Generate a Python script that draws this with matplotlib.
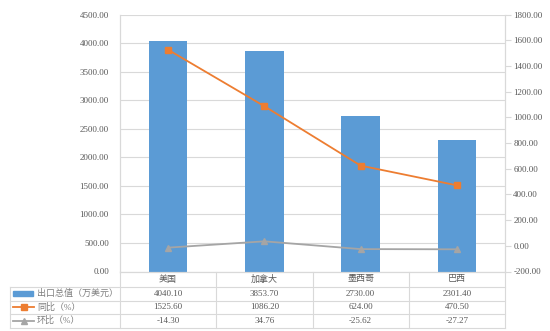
import matplotlib
matplotlib.use('Agg')
import matplotlib.pyplot as plt
from matplotlib.lines import Line2D
from matplotlib.patches import Rectangle
from matplotlib.ticker import FormatStrFormatter, MultipleLocator

plt.rcParams['font.family'] = ['Liberation Serif', 'Noto Sans CJK SC']
plt.rcParams['font.size'] = 6.5

countries = ['美国', '加拿大', '墨西哥', '巴西']
export_total = [4040.10, 3853.70, 2730.00, 2301.40]
yoy = [1525.60, 1086.20, 624.00, 470.50]
mom = [-14.30, 34.76, -25.62, -27.27]
row_labels = ['出口总值（万美元）', '同比（%）', '环比（%）']

blue = '#5B9BD5'
orange = '#ED7D31'
gray = '#A5A5A5'
text_c = '#595959'
line_c = '#D9D9D9'

W, H = 550, 331
fig = plt.figure(figsize=(W / 100, H / 100), dpi=100)


def fx(px):
    return px / W


def fy(py):
    return 1 - py / H


# plot area in pixels
left, right, top, bottom = 120, 505, 14.5, 271.5
ax = fig.add_axes([fx(left), fy(bottom), fx(right - left), (bottom - top) / H])
ax2 = ax.twinx()

x = list(range(len(countries)))
ax.bar(x, export_total, width=0.4, color=blue, zorder=2)
ax.set_xlim(-0.5, len(countries) - 0.5)
ax.set_ylim(0, 4500)
ax.yaxis.set_major_locator(MultipleLocator(500))
ax.yaxis.set_major_formatter(FormatStrFormatter('%.2f'))
ax.grid(axis='y', color=line_c, lw=0.8, zorder=0)
ax.set_axisbelow(True)
ax.set_xticks([])
ax.tick_params(axis='y', length=0, pad=8, colors=text_c)

ax2.plot(x, yoy, color=orange, lw=1.3, marker='s', markersize=4, zorder=3)
ax2.plot(x, mom, color=gray, lw=1.3, marker='^', markersize=4, zorder=3)
ax2.set_ylim(-200, 1800)
ax2.yaxis.set_major_locator(MultipleLocator(200))
ax2.yaxis.set_major_formatter(FormatStrFormatter('%.2f'))
ax2.tick_params(axis='y', length=4, width=0.8, color=line_c, pad=2, labelcolor=text_c)

for a in (ax, ax2):
    a.spines['top'].set_visible(False)
    for side in ('left', 'right', 'bottom'):
        a.spines[side].set_color(line_c)
        a.spines[side].set_linewidth(0.8)

# data table under the chart
rows_y = [287, 300.5, 314, 327.5]
col_x = [left + (right - left) * i / len(countries) for i in range(len(countries) + 1)]
tbl_left = 10

for yy in rows_y:
    fig.add_artist(Line2D([fx(tbl_left), fx(right)], [fy(yy), fy(yy)], color=line_c, lw=0.8))
fig.add_artist(Line2D([fx(tbl_left), fx(tbl_left)], [fy(rows_y[0]), fy(rows_y[-1])], color=line_c, lw=0.8))
for cx in col_x:
    fig.add_artist(Line2D([fx(cx), fx(cx)], [fy(bottom), fy(rows_y[-1])], color=line_c, lw=0.8))

xt = ax.get_xaxis_transform()
cat_y = (bottom + rows_y[0]) / 2
for i, name in enumerate(countries):
    ax.text(i, (bottom - cat_y) / (bottom - top), name, transform=xt,
            ha='center', va='center', color=text_c, clip_on=False)

series = [export_total, yoy, mom]
for r, vals in enumerate(series):
    cy = (rows_y[r] + rows_y[r + 1]) / 2
    for i, v in enumerate(vals):
        ax.text(i, (bottom - cy) / (bottom - top), f'{v:.2f}', transform=xt,
                ha='center', va='center', color=text_c, clip_on=False)
    fig.text(fx(37), fy(cy), row_labels[r], ha='left', va='center', color='#7F7F7F')

# legend keys in the row headers
cy0 = (rows_y[0] + rows_y[1]) / 2
fig.add_artist(Rectangle((fx(13), fy(cy0 + 2.5)), fx(20), 5 / H, color=blue))
cy1 = (rows_y[1] + rows_y[2]) / 2
fig.add_artist(Line2D([fx(13), fx(34)], [fy(cy1), fy(cy1)], color=orange, lw=1.3))
fig.add_artist(Line2D([fx(23.5)], [fy(cy1)], color=orange, marker='s', markersize=4, lw=0))
cy2 = (rows_y[2] + rows_y[3]) / 2
fig.add_artist(Line2D([fx(13), fx(34)], [fy(cy2), fy(cy2)], color=gray, lw=1.3))
fig.add_artist(Line2D([fx(23.5)], [fy(cy2)], color=gray, marker='^', markersize=4, lw=0))

fig.savefig('out.png', dpi=100)
